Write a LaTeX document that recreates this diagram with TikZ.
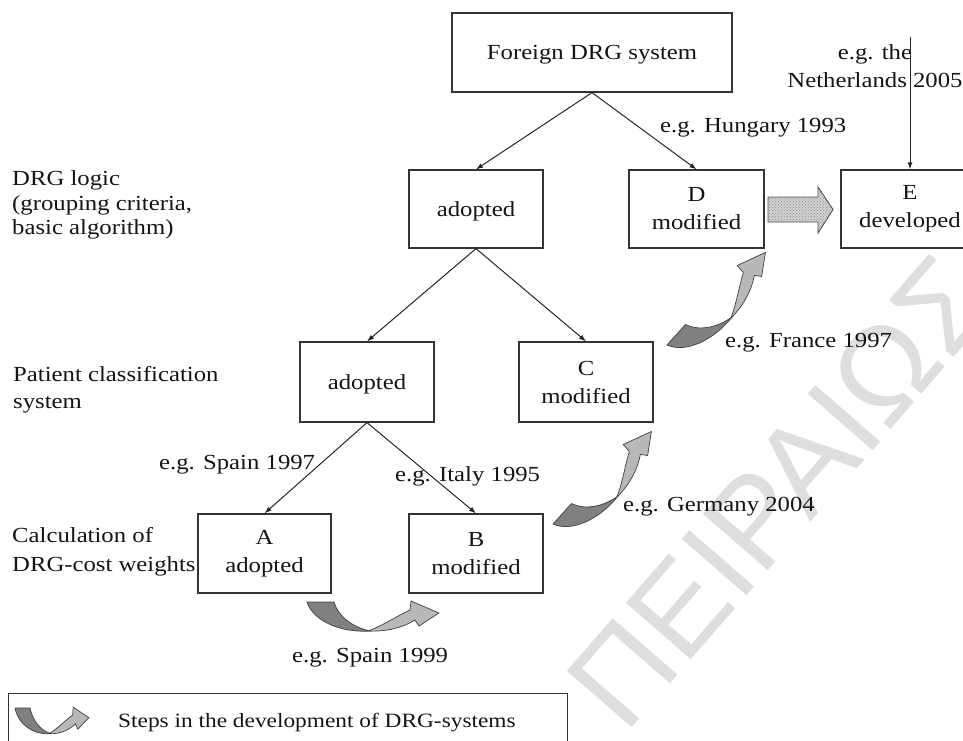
\documentclass[tikz,border=0pt]{standalone}
\usepackage{fontspec}
\setmainfont{Liberation Serif}[FakeStretch=1.15]
\newfontfamily\wmfont{Liberation Sans}
\usetikzlibrary{arrows.meta,patterns}

% curved two-tone arrow marking a development step
\tikzset{
  steparrow/.pic={
    \filldraw[fill=black!50, draw=black!75, line width=0.7pt]
      (0,0) -- (27,0) .. controls (31,14) and (45,25) .. (63,29)
            .. controls (34,31) and (6,19) .. cycle;
    \filldraw[fill=black!28, draw=black!75, line width=0.7pt]
      (61,29) .. controls (80,30) and (97,25) .. (108,18) -- (112,24)
              -- (132,11) -- (104,-1) -- (103,8)
              .. controls (90,14) and (75,24) .. cycle;
  }
}

\begin{document}
\begin{tikzpicture}[x=1pt,y=-1pt,
  txt/.style={inner sep=0pt, text=black!92, font=\fontsize{21.5}{28}\selectfont},
  box/.style={txt, draw=black!80, line width=1.2pt, minimum width=134pt,
              minimum height=79pt, align=center},
  conn/.style={draw=black!85, line width=1pt, -{Latex[length=7pt,width=5pt]}},
  watermark/.style={inner sep=0pt, text=black!13,
              font=\wmfont\fontsize{125}{125}\selectfont}]

\useasboundingbox (0,0) rectangle (963,740);
\clip (0,0) rectangle (963,740);
\fill[white] (0,0) rectangle (963,740);

% background stamp
\node[watermark, anchor=base west, rotate=49] (wm) at (625,736) {ΠΕΙΡΑΙΩΣ};

% level labels
\node[txt, anchor=north west, align=left, font=\fontsize{21.5}{24.5}\selectfont]
  (lvl1) at (12,170.5) {DRG logic\\(grouping criteria,\\basic algorithm)};
\node[txt, anchor=north west, align=left, font=\fontsize{21.5}{27}\selectfont]
  (lvl2) at (13,366) {Patient classification\\system};
\node[txt, anchor=north west, align=left, font=\fontsize{21.5}{29}\selectfont]
  (lvl3) at (12,527.5) {Calculation of\\DRG-cost weights};

% boxes
\node[box, minimum width=280pt, text depth=0pt] (fds) at (592,52.5) {Foreign DRG system};
\node[box, minimum height=78pt, text depth=0pt] (a1) at (476,209) {adopted};
\node[box, minimum height=78pt, minimum width=135pt] (D) at (696.5,209) {D\\modified};
\node[box, minimum height=78pt, minimum width=138pt] (E) at (910,209) {E\\developed};
\node[box, minimum height=80pt, text depth=0pt] (a2) at (367,382) {adopted};
\node[box, minimum height=80pt] (C) at (586,382) {C\\modified};
\node[box, minimum width=133pt] (A) at (264.5,553.5) {A\\adopted};
\node[box] (B) at (476,553.5) {B\\modified};

% example labels
\node[txt, align=center] (nlLab) at (875,65.7) {e.g. the\\Netherlands 2005};
\node[txt, anchor=base west] (hu) at (660,132) {e.g. Hungary 1993};
\node[txt, anchor=base west] (fr) at (725,347) {e.g. France 1997};
\node[txt, anchor=base west] (ge) at (623,511) {e.g. Germany 2004};
\node[txt, anchor=base west] (sp97) at (159,469) {e.g. Spain 1997};
\node[txt, anchor=base west] (it) at (395,481) {e.g. Italy 1995};
\node[txt, anchor=base west] (sp99) at (292,662) {e.g. Spain 1999};

% connectors
\draw[conn] (fds.south) -- (a1.north);
\draw[conn] (fds.south) -- (D.north);
\draw[conn] (a1.south) -- (a2.north);
\draw[conn] (a1.south) -- (C.north);
\draw[conn] (a2.south) -- (A.north);
\draw[conn] (a2.south) -- (B.north);
\coordinate (nl) at (910,37);
\draw[conn] (nl) -- (E.north);

% dotted block arrow from D to E
\draw[draw=black!70, line width=0.9pt, fill=black!18,
      postaction={pattern=crosshatch dots, pattern color=black!45}]
  (768,197) -- (818,197) -- (818,187) -- (833,209.5) -- (818,233)
  -- (818,222) -- (768,222) -- cycle;

% development steps
\pic at (307,602) {steparrow};
\pic[rotate=48, scale=1.02] at (553,524) {steparrow};
\pic[rotate=48, scale=1.02] at (667,345) {steparrow};

% legend
\node[draw=black!80, line width=1.2pt, minimum width=559pt, minimum height=60pt,
      anchor=north west, inner sep=0pt] (legend) at (8,693) {};
\pic[xscale=0.56, yscale=0.88] at (15,708) {steparrow};
\node[txt, anchor=base west, font=\fontsize{20.3}{24}\selectfont]
  (legtxt) at (118,727) {Steps in the development of DRG-systems};

\end{tikzpicture}
\end{document}
